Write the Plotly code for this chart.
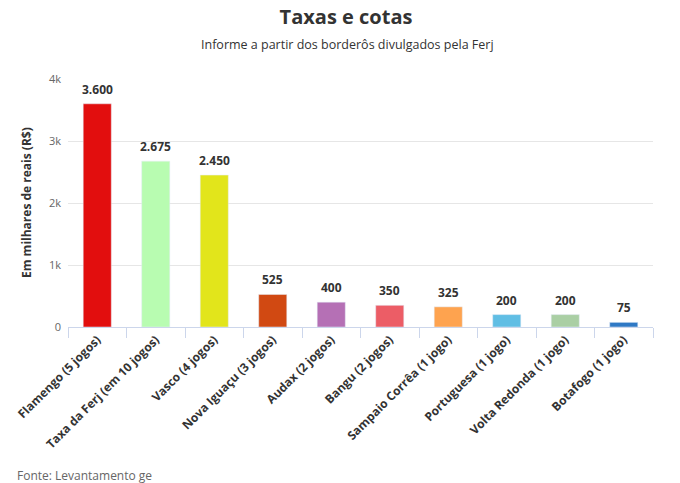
import plotly.graph_objects as go

categorias = [
    'Flamengo (5 jogos)', 'Taxa da Ferj (em 10 jogos)', 'Vasco (4 jogos)',
    'Nova Iguaçu (3 jogos)', 'Audax (2 jogos)', 'Bangu (2 jogos)',
    'Sampaio Corrêa (1 jogo)', 'Portuguesa (1 jogo)', 'Volta Redonda (1 jogo)',
    'Botafogo (1 jogo)',
]
valores = [3600, 2675, 2450, 525, 400, 350, 325, 200, 200, 75]
cores = ['#e20e0e', '#b8fcb1', '#e2e51b', '#d14912', '#b570b5', '#ec5d66',
         '#fea34f', '#60bee4', '#aacfa4', '#2f79c5']
y_ticks = [0, 1000, 2000, 3000, 4000]
y_labels = ['0', '1k', '2k', '3k', '4k']

W, H = 680, 483
L, R, T, B = 68, 27, 79, 156
pw, ph = W - L - R, H - T - B


def px_x(x):
    return (x - L) / pw


def px_y(y):
    return (H - B - y) / ph


fig = go.Figure(go.Bar(
    x=categorias, y=valores, marker_color=cores, width=0.48,
    hoverinfo='x+y',
))

# rótulos de valor acima das barras
for c, v in zip(categorias, valores):
    fig.add_annotation(
        x=c, y=v, text='<b>' + f'{v:,}'.replace(',', '.') + '</b>',
        showarrow=False, yanchor='bottom', yshift=4,
        font=dict(size=12, color='#333333'),
    )

fig.update_layout(
    width=W, height=H, separators=',.',
    paper_bgcolor='white', plot_bgcolor='white',
    font=dict(family='Open Sans', color='#333333'),
    margin=dict(l=L, r=R, t=T, b=B, autoexpand=False),
    showlegend=False,
    title=dict(text='<b>Taxas e cotas</b>', x=346 / W, xanchor='center',
               y=1 - 17 / H, yanchor='middle',
               font=dict(size=20, color='#333333')),
)
fig.add_annotation(text='Informe a partir dos borderôs divulgados pela Ferj',
                   xref='paper', yref='paper', x=px_x(347), y=px_y(45),
                   showarrow=False, xanchor='center', yanchor='middle',
                   font=dict(size=12.5, color='#333333'))
fig.add_annotation(text='<b>Em milhares de reais (R$)</b>', textangle=-90,
                   xref='paper', yref='paper', x=px_x(26), y=px_y(203),
                   showarrow=False, xanchor='center', yanchor='middle',
                   font=dict(size=12, color='#333333'))
fig.add_annotation(text='Fonte: Levantamento ge', xref='paper', yref='paper',
                   x=px_x(15), y=px_y(475), showarrow=False,
                   xanchor='left', yanchor='middle',
                   font=dict(size=12, color='#666666'))

fig.update_xaxes(
    tickangle=-45, showline=True, linecolor='#ccd6eb', linewidth=1,
    ticks='outside', ticklen=10, tickcolor='#ccd6eb', tickson='boundaries',
    tickfont=dict(size=12, color='#333333', weight='bold'), automargin=False,
)
fig.update_yaxes(
    range=[0, 4000], tickvals=y_ticks, ticktext=y_labels,
    gridcolor='#e6e6e6', zeroline=False, showline=False, automargin=False,
    ticklabelstandoff=6,
    tickfont=dict(size=11, color='#666666'),
)

fig.write_html('out.html', config={'displayModeBar': False},
               post_script="document.body.style.margin='0';")
